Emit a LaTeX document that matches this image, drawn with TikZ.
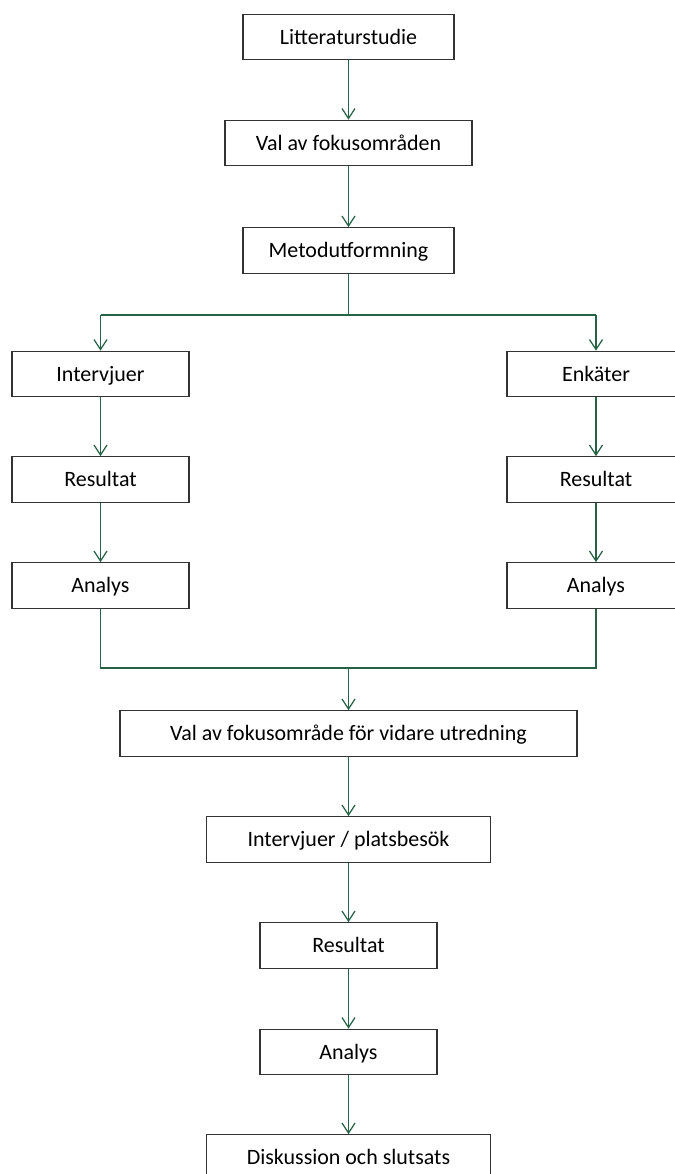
\documentclass[tikz,border=0pt]{standalone}
\usepackage{fontspec}
\setmainfont{Carlito}
\usepackage{tikz}
\usetikzlibrary{arrows.meta}
\definecolor{flowgreen}{RGB}{38,98,70}
\tikzstyle{flow}=[x=0.02cm, y=-0.02cm, font=\fontsize{12.5}{14}\selectfont]
\tikzstyle{stage}=[rectangle, draw=black!80, line width=0.7pt, fill=white, minimum height=0.91cm, inner sep=2pt, text height=2.25ex, text depth=0.5ex]
\tikzstyle{edge}=[-{Straight Barb[length=2mm,width=2.6mm]}, draw=flowgreen, line width=0.7pt]
\tikzstyle{wire}=[-, draw=flowgreen, line width=0.7pt]

\begin{document}
\begin{tikzpicture}[flow]
	\useasboundingbox (0,0) rectangle (674,1174);

	%The first steps
	\draw (348.5,37) node[stage, minimum width=4.22cm] (lit) {Litteraturstudie};
	\draw (348.5,143) node[stage, minimum width=4.94cm] (val) {Val av fokusområden};
	\draw (348.5,250.5) node[stage, minimum width=4.22cm] (met) {Metodutformning};

	\draw[edge] (lit) -- (val);
	\draw[edge] (val) -- (met);

	%The split
	\coordinate (split) at (348.5,315);
	\coordinate (splitL) at (100.5,315);
	\coordinate (splitR) at (596,315);

	%The left branch
	\draw (100.5,374) node[stage, minimum width=3.54cm] (intL) {Intervjuer};
	\draw (100.5,479.5) node[stage, minimum width=3.54cm] (resL) {Resultat};
	\draw (100.5,585.5) node[stage, minimum width=3.54cm] (anaL) {Analys};

	%The right branch
	\draw (596,374) node[stage, minimum width=3.56cm] (enkR) {Enkäter};
	\draw (596,479.5) node[stage, minimum width=3.56cm] (resR) {Resultat};
	\draw (596,585.5) node[stage, minimum width=3.56cm] (anaR) {Analys};

	\draw[wire] (met) -- (split);
	\draw[wire] (splitL) -- (splitR);
	\draw[edge] (splitL) -- (intL);
	\draw[edge] (splitR) -- (enkR);
	\draw[edge] (intL) -- (resL);
	\draw[edge] (resL) -- (anaL);
	\draw[edge] (enkR) -- (resR);
	\draw[edge] (resR) -- (anaR);

	%The merge
	\coordinate (mergeL) at (100.5,668);
	\coordinate (merge) at (348.5,668);
	\coordinate (mergeR) at (596,668);

	\draw[wire] (anaL) -- (mergeL) -- (mergeR) -- (anaR);

	%The last steps
	\draw (348.5,733.5) node[stage, minimum width=9.14cm] (fok) {Val av fokusområde för vidare utredning};
	\draw (348.5,839.5) node[stage, minimum width=5.68cm] (pla) {Intervjuer / platsbesök};
	\draw (348.5,945.5) node[stage, minimum width=3.54cm] (res) {Resultat};
	\draw (348.5,1052) node[stage, minimum width=3.54cm] (ana) {Analys};
	\draw (348.5,1157.5) node[stage, minimum width=5.68cm] (dis) {Diskussion och slutsats};

	\draw[edge] (merge) -- (fok);
	\draw[edge] (fok) -- (pla);
	\draw[edge] (pla) -- (res);
	\draw[edge] (res) -- (ana);
	\draw[edge] (ana) -- (dis);
\end{tikzpicture}
\end{document}
